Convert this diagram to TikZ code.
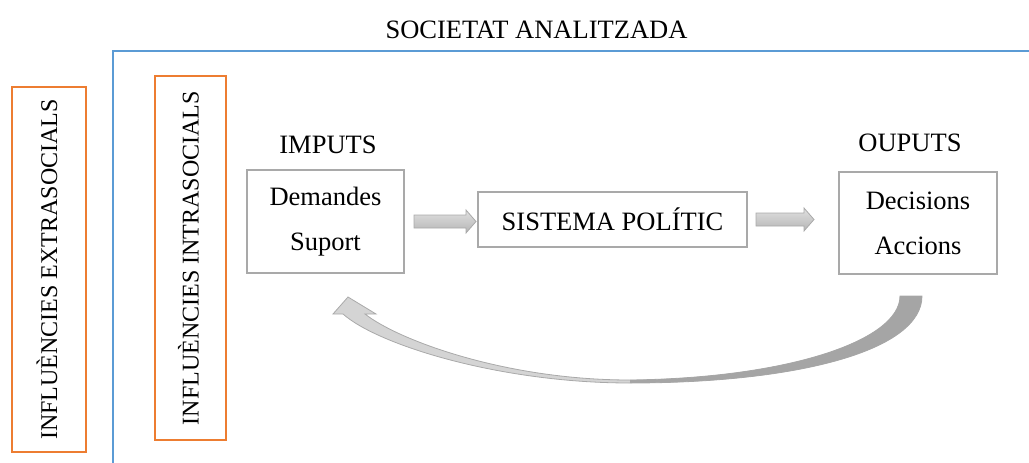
\documentclass[tikz,border=0pt]{standalone}
\usepackage{fontspec}
\setmainfont{Liberation Serif}
\usetikzlibrary{calc}
\definecolor{frameblue}{HTML}{5B9BD5}
\definecolor{inforange}{HTML}{ED7D31}
\definecolor{boxgray}{HTML}{A9A9A9}
\definecolor{arrowfill}{HTML}{D4D4D4}
\definecolor{arrowdark}{HTML}{A5A5A5}
\tikzset{
  lbl/.style={font=\fontsize{26.5}{45}\selectfont, inner sep=0pt, text=black},
  graybox/.style={draw=boxgray, line width=2pt, fill=white, align=center,
    font=\fontsize{26.5}{45}\selectfont, inner sep=0pt},
  infbox/.style={draw=inforange, line width=2.5pt, rotate=90,
    font=\fontsize{24}{30}\selectfont, inner sep=0pt, text height=16, text depth=0},
  blockarrow/.style={draw=boxgray, line width=0.8pt, top color=arrowfill!70!white, bottom color=arrowfill!85!black},
}
\begin{document}
\begin{tikzpicture}[x=1pt, y=-1pt]
  \useasboundingbox (0,0) rectangle (1029,463);

  % frame of the analysed society
  \draw[frameblue, line width=2pt] (113,470) -- (113,51) -- (1035,51);
  \node[lbl, anchor=base] (soc) at (536.5,38) {SOCIETAT ANALITZADA};

  % influences
  \node[infbox, minimum width=365, minimum height=74] (extra) at (49,269.5) {INFLUÈNCIES EXTRASOCIALS};
  \node[infbox, minimum width=364, minimum height=71] (intra) at (190.5,258) {INFLUÈNCIES INTRASOCIALS};

  % inputs, system, outputs
  \node[lbl] (imputs) at (328,145) {IMPUTS};
  \node[graybox, minimum width=157, minimum height=103] (imp) at (325.5,221.5) {Demandes\\Suport};
  \node[graybox, minimum width=269, minimum height=55] (sys) at (612.5,219.5) {SISTEMA POLÍTIC};
  \node[lbl] (ouputs) at (910,143) {OUPUTS};
  \node[graybox, minimum width=158, minimum height=102] (out) at (918,223) {Decisions\\Accions};

  % block arrows between the boxes
  \coordinate (a1) at ($(imp.east)+(9,0)$);
  \coordinate (a2) at ($(sys.east)+(8,0)$);
  \draw[blockarrow] (a1) ++(0,-6.5) -- ++(52,0) -- ++(0,-5) -- ++(10,11.5) -- ++(-10,11.5) -- ++(0,-5) -- ++(-52,0) -- cycle;
  \draw[blockarrow] (a2) ++(0,-6.5) -- ++(48,0) -- ++(0,-5) -- ++(10,11.5) -- ++(-10,11.5) -- ++(0,-5) -- ++(-48,0) -- cycle;

  % feedback arrow from the outputs back to the inputs
  \coordinate (fbstart) at (911,296);
  \coordinate (fbtip) at (348,297);
  \fill[arrowfill, draw=boxgray, line width=0.8pt]
    (922,296) .. controls (922,350) and (800,383) .. (630,383)
    .. controls (500,383) and (378,345) .. (343,314)
    -- (333,314) -- (fbtip) -- (376,314) -- (365,314)
    .. controls (398,340) and (505,380) .. (630,380)
    .. controls (790,378) and (900,340) .. (900,296) -- cycle;
  \fill[arrowdark]
    (922,296) .. controls (922,350) and (800,383) .. (630,383)
    -- (630,380)
    .. controls (790,378) and (900,340) .. (900,296) -- cycle;
\end{tikzpicture}
\end{document}
